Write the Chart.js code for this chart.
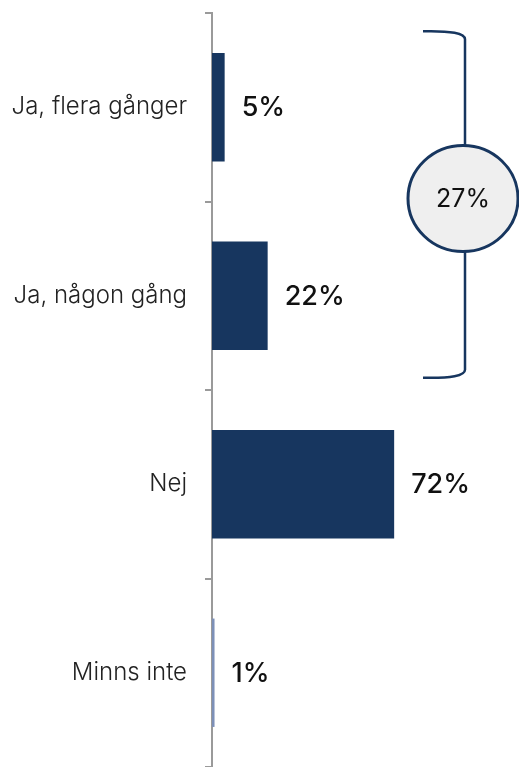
<!DOCTYPE html>
<html>
<head>
<meta charset="utf-8">
<script src="https://cdn.jsdelivr.net/npm/chart.js@4.4.1/dist/chart.umd.min.js"></script>
<style>
  html, body { margin: 0; padding: 0; background: #fff; }
  #wrap { width: 519px; height: 767px; position: relative; }
</style>
</head>
<body>
<div id="wrap"><canvas id="chart"></canvas></div>
<script>
/* global Chart */

const categories = ["Ja, flera gånger", "Ja, någon gång", "Nej", "Minns inte"];
const values = [5, 22, 72, 1];
const bracketTotal = 27; // sum of the two "Ja" rows, shown in the circle

const NAVY = "#17365f";

// value labels after each bar + the bracket with the circle
const extrasPlugin = {
  id: "extras",
  afterDatasetsDraw(chart) {
    const { ctx, scales } = chart;
    const meta = chart.getDatasetMeta(0);
    ctx.save();
    ctx.fillStyle = "#111";
    ctx.font = "500 27px Inter";
    ctx.textBaseline = "middle";
    ctx.textAlign = "left";
    meta.data.forEach((bar, i) => {
      ctx.fillText(values[i] + "%", bar.x + 17, bar.y + 1);
    });

    // bracket over first two categories
    const y = scales.y;
    const top = y.getPixelForValue(0) - 76;
    const bottom = y.getPixelForValue(1) + 82;
    const x = 465;
    const r = 8;
    ctx.strokeStyle = NAVY;
    ctx.lineWidth = 2.5;
    ctx.beginPath();
    ctx.moveTo(423, top);
    ctx.quadraticCurveTo(x, top - 1, x, top + r);
    ctx.lineTo(x, bottom - r);
    ctx.quadraticCurveTo(x, bottom + 1, 423, bottom);
    ctx.stroke();

    const cy = (top + bottom) / 2 - 6;
    ctx.beginPath();
    ctx.ellipse(463, cy, 55, 53, 0, 0, Math.PI * 2);
    ctx.fillStyle = "#efefef";
    ctx.fill();
    ctx.lineWidth = 3;
    ctx.stroke();

    ctx.fillStyle = "#111";
    ctx.font = "400 25px Inter";
    ctx.textAlign = "center";
    ctx.fillText(bracketTotal + "%", 463, cy + 1);
    ctx.restore();
  },
};

new Chart(document.getElementById("chart"), {
  type: "bar",
  data: {
    labels: categories,
    datasets: [{
      data: values,
      backgroundColor: [NAVY, NAVY, NAVY, "#7d90b8"],
      borderWidth: 0,
      categoryPercentage: 1,
      barPercentage: 0.575,
    }],
  },
  options: {
    indexAxis: "y",
    responsive: true,
    maintainAspectRatio: false,
    animation: false,
    layout: { padding: { top: 13, right: 54, bottom: 0, left: 0 } },
    plugins: { legend: { display: false }, tooltip: { enabled: false } },
    scales: {
      x: { display: false, min: 0, max: 100 },
      y: {
        afterFit(scale) {
          scale.width = 212;
          scale.paddingTop = 0;
          scale.paddingBottom = 0;
        },
        border: { color: "#9a9a9a", width: 2 },
        grid: { drawOnChartArea: false, color: "#9a9a9a", lineWidth: 2, tickLength: 7 },
        ticks: { color: "#222", font: { family: "Inter", size: 24, weight: 300 }, padding: 18 },
      },
    },
  },
  plugins: [extrasPlugin],
});
</script>
</body>
</html>
